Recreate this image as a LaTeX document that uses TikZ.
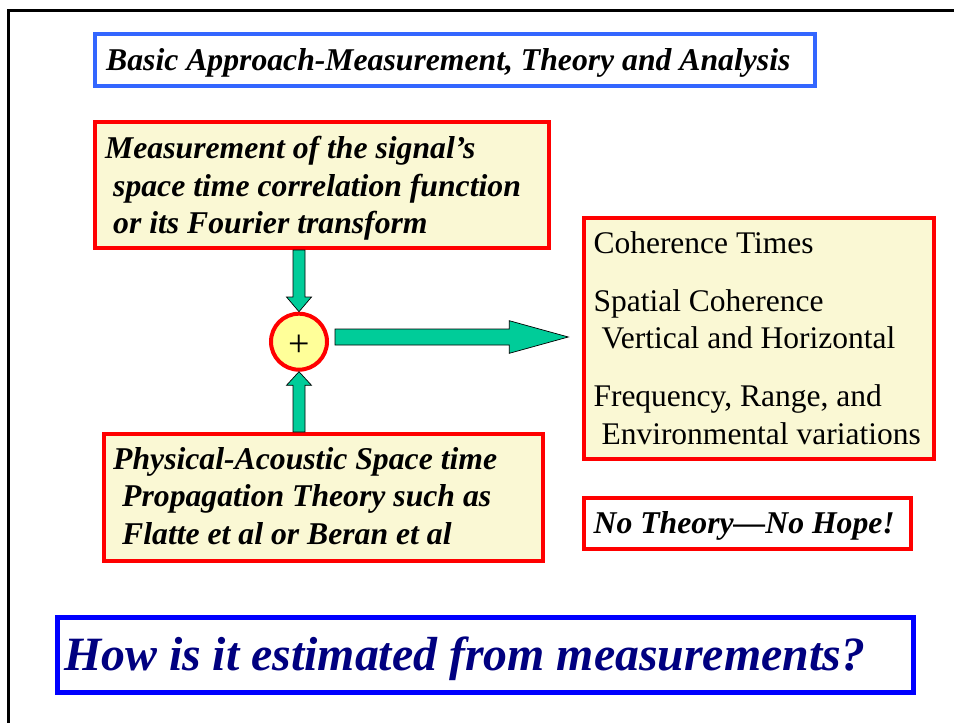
\documentclass[tikz,border=0pt]{standalone}
\usepackage{fontspec}
\setmainfont{Liberation Serif}
\usetikzlibrary{calc}
\definecolor{titleblue}{RGB}{51,102,255}
\definecolor{deepblue}{RGB}{0,0,255}
\definecolor{navytext}{RGB}{0,0,128}
\definecolor{boxfill}{RGB}{250,248,212}
\definecolor{circfill}{RGB}{255,255,153}
\definecolor{arrowgreen}{RGB}{0,204,153}
\begin{document}
\begin{tikzpicture}[x=1pt,y=-1pt,
  framebox/.style={rectangle, inner sep=0pt, anchor=north west},
  bluebox/.style={framebox, draw=titleblue, line width=4pt, fill=white},
  bigbluebox/.style={framebox, draw=deepblue, line width=5pt, fill=white},
  redbox/.style={framebox, draw=red, line width=4pt, fill=boxfill},
  whiteredbox/.style={framebox, draw=red, line width=4pt, fill=white},
  sumcircle/.style={circle, draw=red, line width=4pt, fill=circfill, minimum size=56pt, inner sep=0pt},
  garrow/.style={fill=arrowgreen, draw=black, line width=0.7pt, line join=miter},
  bitext/.style={anchor=base west, inner sep=0pt, font=\fontsize{31.7}{37.8}\selectfont\bfseries\itshape},
  rmtext/.style={anchor=base west, inner sep=0pt, font=\fontsize{31.5}{37.8}\selectfont},
]
\useasboundingbox (0,0) rectangle (954,723);
\clip (0,0) rectangle (954,723);
\fill[white] (0,0) rectangle (954,723);
% slide frame
\draw[line width=3pt] (970,10) -- (8,10) -- (8,740);

% boxes
\node[bluebox, minimum width=720pt, minimum height=52pt] (title) at (93,32) {};
\node[redbox, minimum width=454pt, minimum height=126pt] (meas) at (93,120) {};
\node[redbox, minimum width=439pt, minimum height=127pt] (phys) at (102,432) {};
\node[redbox, minimum width=350pt, minimum height=241pt] (res) at (582,216) {};
\node[whiteredbox, minimum width=327pt, minimum height=51pt] (hope) at (582,496) {};
\node[bigbluebox, minimum width=856pt, minimum height=75pt] (question) at (55,615) {};
\node[sumcircle, font=\fontsize{38}{42}\selectfont] (sum) at (299,341.7) {\smash{\raisebox{-14.8pt}{+}}};

% texts
\node[bitext] (titletext) at (106,70) {Basic Approach-Measurement, Theory and Analysis};
\node[bitext] (meastext) at (105,158.3) {\parbox[t]{440pt}{Measurement of the signal’s\\
  \hspace*{8pt}space time correlation function\\
  \hspace*{8pt}or its Fourier transform}};
\node[bitext] (phystext) at (113,469) {\parbox[t]{430pt}{Physical-Acoustic Space time\\
  \hspace*{9pt}Propagation Theory such as\\
  \hspace*{9pt}Flatte et al or Beran et al}};
\node[rmtext] (restext) at (593.3,253.3) {\parbox[t]{340pt}{Coherence Times\\[20pt]
  Spatial Coherence\\
  \hspace*{8pt}Vertical and Horizontal\\[20pt]
  Frequency, Range, and\\
  \hspace*{8pt}Environmental variations}};
\node[bitext] (hopetext) at (593.5,533) {No Theory—No Hope!};
\node[bitext, text=navytext, font=\fontsize{47.8}{55}\selectfont\bfseries\itshape] (questiontext) at (64,670) {How is it estimated from measurements?};

% arrows
\coordinate (dtop) at (meas.south -| sum);
\draw[garrow] ($(dtop)+(-6,0)$) -- ($(dtop)+(-6,47)$) -- ($(dtop)+(-12.5,47)$) -- (sum.north)
  -- ($(dtop)+(12.5,47)$) -- ($(dtop)+(6,47)$) -- ($(dtop)+(6,0)$) -- cycle;
\coordinate (ubot) at (phys.north -| sum);
\draw[garrow] ($(ubot)+(-6,0)$) -- ($(ubot)+(-6,-46.7)$) -- ($(ubot)+(-12.5,-46.7)$) -- (sum.south)
  -- ($(ubot)+(12.5,-46.7)$) -- ($(ubot)+(6,-46.7)$) -- ($(ubot)+(6,0)$) -- cycle;
\coordinate (rs) at ($(sum.east)+(6,-4.7)$);
\coordinate (rt) at ($(res.west |- rs)+(-13.7,0)$);
\draw[garrow] ($(rs)+(0,-8)$) -- ($(rt)+(-59,-8)$) -- ($(rt)+(-59,-16.3)$) -- (rt)
  -- ($(rt)+(-59,16.3)$) -- ($(rt)+(-59,8)$) -- ($(rs)+(0,8)$) -- cycle;
\end{tikzpicture}
\end{document}
